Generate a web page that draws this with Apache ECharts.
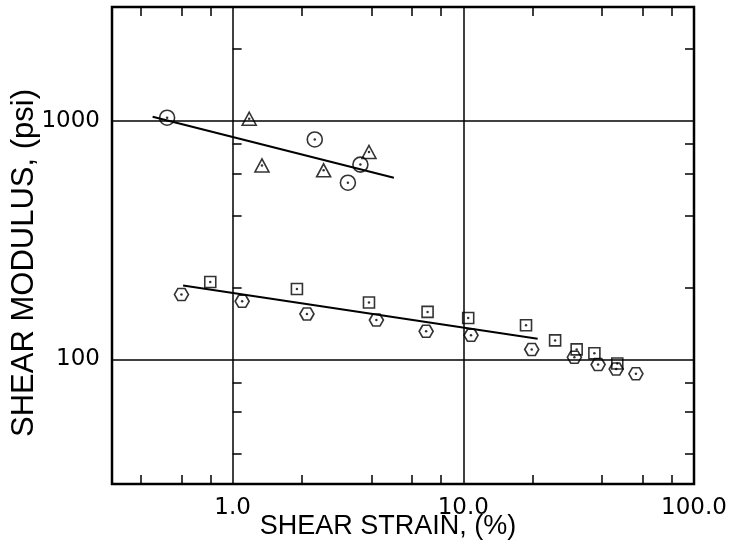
<!DOCTYPE html>
<html>
<head>
<meta charset="utf-8">
<script src="https://cdn.jsdelivr.net/npm/echarts@6/dist/echarts.min.js"></script>
<style>
html,body{margin:0;padding:0;background:#fff;}
#chart{width:732px;height:547px;}
</style>
</head>
<body>
<div id="chart"></div>
<script>
// ---- data ----
var circleStrain = [0.52, 2.27, 3.58, 3.16];
var circleModulus = [1030, 835, 655, 550];
var triStrain = [1.18, 1.34, 2.48, 3.9];
var triModulus = [1020, 650, 620, 740];
var squareStrain = [0.8, 1.9, 3.9, 7.0, 10.5, 18.7, 25, 31, 37, 46.5];
var squareModulus = [211, 197, 173, 158, 149, 139, 120, 110, 106, 96];
var hexStrain = [0.6, 1.1, 2.1, 4.2, 6.9, 10.8, 19.8, 30.3, 38.4, 46, 56];
var hexModulus = [187, 175, 155, 146, 131, 126, 110, 102, 95, 91, 87];
var line1Strain = [0.45, 5.0];
var line1Modulus = [1040, 577];
var line2Strain = [0.61, 21];
var line2Modulus = [204, 122];
var xMinorTicks = [0.4, 0.6, 0.8, 2, 4, 6, 8, 20, 40, 60, 80];
var yMinorTicks = [40, 60, 80, 200, 400, 600, 800, 2000];
var xMin = 0.3, xMax = 100, yMin = 30, yMax = 3000;

function pairs(xs, ys) { return xs.map(function (x, i) { return [x, ys[i]]; }); }

var FONT = 'Liberation Sans';
var NUMFONT = 'DejaVu Sans';
var hexPath = 'path://M0,6 L3.5,0 L10.5,0 L14,6 L10.5,12 L3.5,12 Z';
var outline = { color: 'rgba(0,0,0,0)', borderColor: '#000', borderWidth: 1.6 };

var allPts = pairs(circleStrain, circleModulus)
  .concat(pairs(triStrain, triModulus))
  .concat(pairs(squareStrain, squareModulus))
  .concat(pairs(hexStrain, hexModulus));

function minorAxis(pos, min, max, ticks) {
  return {
    type: 'value', position: pos, min: Math.log10(min), max: Math.log10(max),
    axisLine: { show: false }, axisLabel: { show: false }, splitLine: { show: false },
    axisTick: { show: true, inside: true, length: 9, lineStyle: { color: '#000', width: 1.5 },
      customValues: ticks.map(function (v) { return Math.log10(v); }) }
  };
}

var xMain = {
  type: 'log', min: xMin, max: xMax, position: 'bottom',
  name: 'SHEAR STRAIN, (%)', nameLocation: 'middle', nameGap: 29, nameMoveOverlap: false,
  nameTextStyle: { fontFamily: FONT, fontSize: 27, color: '#000', padding: [0, 30, 0, 0] },
  axisLine: { show: false }, axisTick: { show: false },
  axisLabel: { fontFamily: NUMFONT, fontSize: 23, color: '#000', margin: 13, showMinLabel: false, showMaxLabel: true,
    formatter: function (v) { return Number(v).toFixed(1); } },
  splitLine: { show: true, lineStyle: { color: '#000', width: 1.5 } }
};
var yMain = {
  type: 'log', min: yMin, max: yMax, position: 'left',
  name: 'SHEAR MODULUS, (psi)', nameLocation: 'middle', nameGap: 72, nameMoveOverlap: false,
  nameTextStyle: { fontFamily: FONT, fontSize: 31, color: '#000', padding: [0, 35, 0, 0] },
  axisLine: { show: false }, axisTick: { show: false },
  axisLabel: { fontFamily: NUMFONT, fontSize: 23, color: '#000', margin: 12, showMinLabel: false, showMaxLabel: false,
    formatter: function (v) { return String(Math.round(v)); } },
  splitLine: { show: true, lineStyle: { color: '#000', width: 1.5 } }
};

var option = {
  backgroundColor: '#fff',
  animation: false,
  grid: { left: 112, right: 38, top: 7, bottom: 63, containLabel: false, outerBoundsMode: 'none',
    show: true, borderColor: '#000', borderWidth: 2.5, backgroundColor: 'transparent' },
  xAxis: [xMain, minorAxis('bottom', xMin, xMax, xMinorTicks), minorAxis('top', xMin, xMax, xMinorTicks)],
  yAxis: [yMain, minorAxis('left', yMin, yMax, yMinorTicks), minorAxis('right', yMin, yMax, yMinorTicks)],
  series: [
    { type: 'line', data: pairs(line1Strain, line1Modulus), showSymbol: false, symbol: 'none',
      lineStyle: { color: '#000', width: 2 }, silent: true },
    { type: 'line', data: pairs(line2Strain, line2Modulus), showSymbol: false, symbol: 'none',
      lineStyle: { color: '#000', width: 2 }, silent: true },
    { type: 'scatter', data: pairs(circleStrain, circleModulus), symbol: 'circle', symbolSize: 15, itemStyle: outline },
    { type: 'scatter', data: pairs(triStrain, triModulus), symbol: 'triangle', symbolSize: [14, 13], itemStyle: outline },
    { type: 'scatter', data: pairs(squareStrain, squareModulus), symbol: 'rect', symbolSize: 11, itemStyle: outline },
    { type: 'scatter', data: pairs(hexStrain, hexModulus), symbol: hexPath, symbolSize: [14, 12], itemStyle: outline },
    { type: 'scatter', data: allPts, symbol: 'circle', symbolSize: 2.5, itemStyle: { color: '#000' } }
  ]
};

var chart = echarts.init(document.getElementById('chart'), null, { renderer: 'canvas' });
chart.setOption(option);
</script>
</body>
</html>
